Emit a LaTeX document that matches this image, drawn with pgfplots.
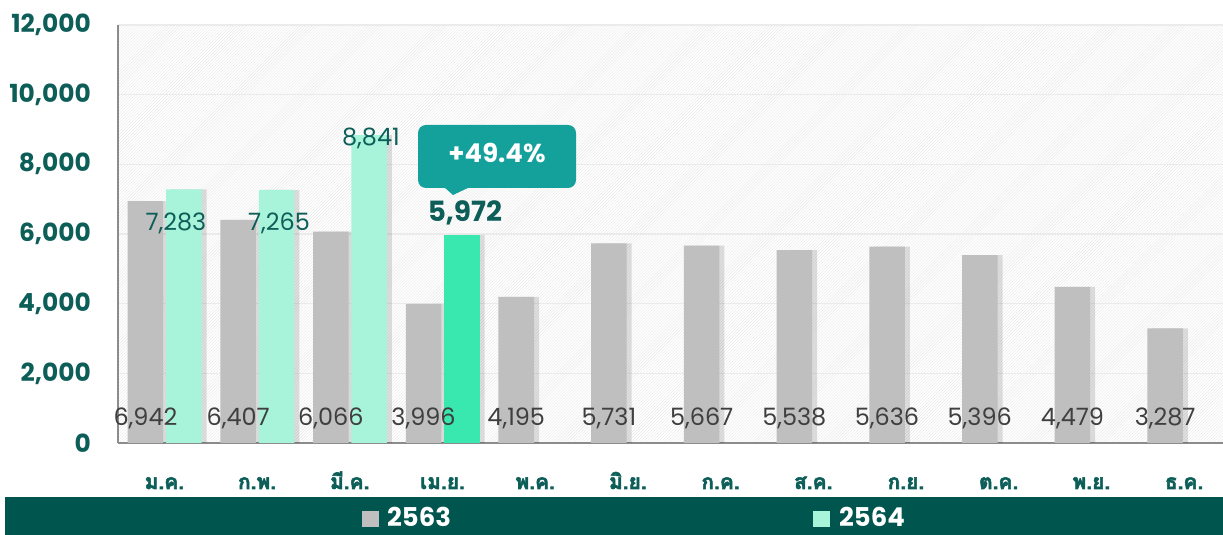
\documentclass[border=0pt]{standalone}
\usepackage{pgfplots}
\pgfplotsset{compat=1.18}
\usetikzlibrary{patterns}
\usepackage{fontspec}
\setmainfont{Poppins}
\newfontfamily\thai[Script=Thai, BoldFeatures={FakeBold=2.5}]{Loma}
\definecolor{barg}{HTML}{BFBFBF}
\definecolor{lgreen}{HTML}{A8F4DB}
\definecolor{dgreen}{HTML}{38E8AE}
\definecolor{tealtxt}{HTML}{0D5E58}
\definecolor{band}{HTML}{00554F}
\definecolor{callout}{HTML}{14A19C}
\definecolor{lbl}{HTML}{3F3F3F}
\definecolor{axisc}{HTML}{8C8C8C}
\tikzset{glbl/.style={font=\fontsize{24}{24}\selectfont, text=lbl, inner sep=0pt},
         tlbl/.style={font=\fontsize{24}{24}\selectfont, text=tealtxt, inner sep=0pt}}
\begin{document}
\begin{tikzpicture}[x=1bp,y=1bp]
\useasboundingbox (0,0) rectangle (1223,535);
\fill[band] (5,0) rectangle (1223,38);
\begin{axis}[
  at={(118bp,92bp)}, anchor=south west,
  scale only axis, width=1105bp, height=418bp,
  xmin=-0.5, xmax=11.42, ymin=0, ymax=12000,
  clip=false,
  axis x line*=bottom, axis y line*=left,
  axis line style={draw=axisc, line width=2bp, -},
  major tick length=0,
  axis background/.style={fill=white, postaction={pattern=north east lines, pattern color=black!9}},
  ymajorgrids, major grid style={draw=black!8, line width=1.2bp},
  ytick={0,2000,...,12000},
  scaled y ticks=false,
  yticklabel style={/pgf/number format/.cd, 1000 sep={,}, assume math mode=true, /tikz/.cd,
     font=\bfseries\fontsize{25}{25}\selectfont, text=tealtxt, anchor=east, inner sep=0pt, xshift=-27bp},
  xtick={0,...,11},
  xticklabels={ม.ค.,ก.พ.,มี.ค.,เม.ย.,พ.ค.,มิ.ย.,ก.ค.,ส.ค.,ก.ย.,ต.ค.,พ.ย.,ธ.ค.},
  xticklabel style={font=\thai\bfseries\fontsize{21}{21}\selectfont, text=tealtxt, anchor=base, inner sep=0pt, yshift=-46bp},
  ybar, bar width=0.383,
]
% shadows
\addplot[fill=black, opacity=0.12, draw=none, bar shift=-0.15, forget plot] coordinates {
(0,6942) (1,6407) (2,6066) (3,3996) (4,4195) (5,5731) (6,5667) (7,5538) (8,5636) (9,5396) (10,4479) (11,3287)};
\addplot[fill=black, opacity=0.12, draw=none, bar shift=0.264, forget plot] coordinates {
(0,7283) (1,7265) (2,8841) (3,5972)};
% bars
\addplot[fill=barg, draw=none, bar shift=-0.204] coordinates {
(0,6942) (1,6407) (2,6066) (3,3996) (4,4195) (5,5731) (6,5667) (7,5538) (8,5636) (9,5396) (10,4479) (11,3287)};
\addplot[fill=lgreen, draw=none, bar shift=0.21] coordinates {
(0,7283) (1,7265) (2,8841)};
\addplot[fill=dgreen, draw=none, bar shift=0.21] coordinates {(3,5972)};
% data labels
\node[glbl] at (axis cs:-0.204,718) {6,942};
\node[glbl] at (axis cs:0.796,718) {6,407};
\node[glbl] at (axis cs:1.796,718) {6,066};
\node[glbl] at (axis cs:2.796,718) {3,996};
\node[glbl] at (axis cs:3.796,718) {4,195};
\node[glbl] at (axis cs:4.796,718) {5,731};
\node[glbl] at (axis cs:5.796,718) {5,667};
\node[glbl] at (axis cs:6.796,718) {5,538};
\node[glbl] at (axis cs:7.796,718) {5,636};
\node[glbl] at (axis cs:8.796,718) {5,396};
\node[glbl] at (axis cs:9.796,718) {4,479};
\node[glbl] at (axis cs:10.796,718) {3,287};
\node[tlbl] at (axis cs:0.125,6316) {7,283};
\node[tlbl] at (axis cs:1.236,6316) {7,265};
\node[tlbl] at (axis cs:2.228,8756) {8,841};
\node[font=\bfseries\fontsize{28}{28}\selectfont, text=tealtxt, inner sep=0pt] at (axis cs:3.242,6603) {5,972};
\end{axis}
% callout
\fill[callout, rounded corners=8bp] (418,347) rectangle (576,410);
\fill[callout] (444,348) -- (453,340) -- (470,348) -- cycle;
\node[font=\bfseries\fontsize{26}{26}\selectfont, text=white, inner sep=0pt] at (497,382) {+49.4\%};
% legend
\fill[barg] (362,8) rectangle (379,24);
\node[font=\bfseries\fontsize{26}{26}\selectfont, text=white, inner sep=0pt, anchor=base west] at (387,8) {2563};
\fill[lgreen] (813,8) rectangle (830,24);
\node[font=\bfseries\fontsize{26}{26}\selectfont, text=white, inner sep=0pt, anchor=base west] at (839,8) {2564};
\end{tikzpicture}
\end{document}
